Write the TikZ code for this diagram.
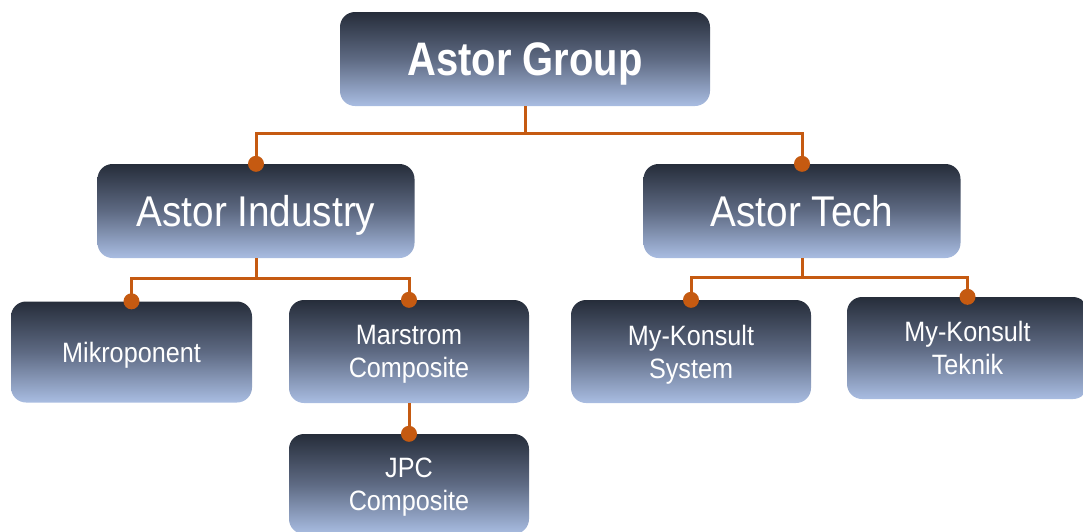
\documentclass[tikz,border=0pt]{standalone}
\usepackage{fontspec}
\setmainfont{Liberation Sans}[FakeStretch=0.9]
\newfontfamily\groupfont{Liberation Sans Bold}[FakeStretch=0.85]
\begin{document}
\begin{tikzpicture}[x=1pt,y=-1pt,
  box/.style={rounded corners=15pt, inner sep=0pt, align=center, text=white,
    text depth=0pt, top color=boxtop, bottom color=boxbot, middle color=boxmid},
  conn/.style={draw=conncol, line width=3pt},
  dot/.style={circle, fill=conncol, inner sep=0pt, minimum size=16pt},
  big/.style={font=\groupfont\fontsize{47}{50}\selectfont},
  mid/.style={font=\fontsize{43}{46}\selectfont},
  small/.style={font=\fontsize{28}{33}\selectfont}]
\definecolor{boxtop}{HTML}{262D3A}
\definecolor{boxmid}{HTML}{5E6A83}
\definecolor{boxbot}{HTML}{A9BDE2}
\definecolor{conncol}{HTML}{C55A11}
\useasboundingbox (0,0) rectangle (1083,531);
\node[box,big,minimum width=370pt,minimum height=94pt] (g) at (525,59) {Astor Group};
\node[box,mid,minimum width=317pt,minimum height=94pt] (i) at (256,211) {Astor Industry};
\node[box,mid,minimum width=317pt,minimum height=94pt] (t) at (802,211) {Astor Tech};
\node[box,small,minimum width=241pt,minimum height=101pt] (mk) at (131.5,352) {Mikroponent};
\node[box,small,minimum width=240pt,minimum height=103pt] (ms) at (409,351.5) {Marstrom\\Composite};
\node[box,small,minimum width=240pt,minimum height=100pt] (jp) at (409,484) {JPC\\Composite};
\node[box,small,minimum width=240pt,minimum height=103pt] (ks) at (691,351.5) {My-Konsult\\System};
\node[box,small,minimum width=241pt,minimum height=102pt] (kt) at (967.5,348) {My-Konsult\\Teknik};
\coordinate (gj) at (525,133);
\coordinate (ij) at (256,278);
\coordinate (tj) at (802,277);
\draw[conn] (g.south) -- (gj);
\draw[conn] (gj) -| (i.north);
\draw[conn] (gj) -| (t.north);
\draw[conn] (i.south) -- (ij);
\draw[conn] (ij) -| (mk.north);
\draw[conn] (ij) -| (ms.north);
\draw[conn] (t.south) -- (tj);
\draw[conn] (tj) -| (ks.north);
\draw[conn] (tj) -| (kt.north);
\draw[conn] (ms.south) -- (jp.north);
\foreach \n in {i,t,mk,ms,ks,kt,jp} \node[dot] (d\n) at (\n.north) {};
\end{tikzpicture}
\end{document}
